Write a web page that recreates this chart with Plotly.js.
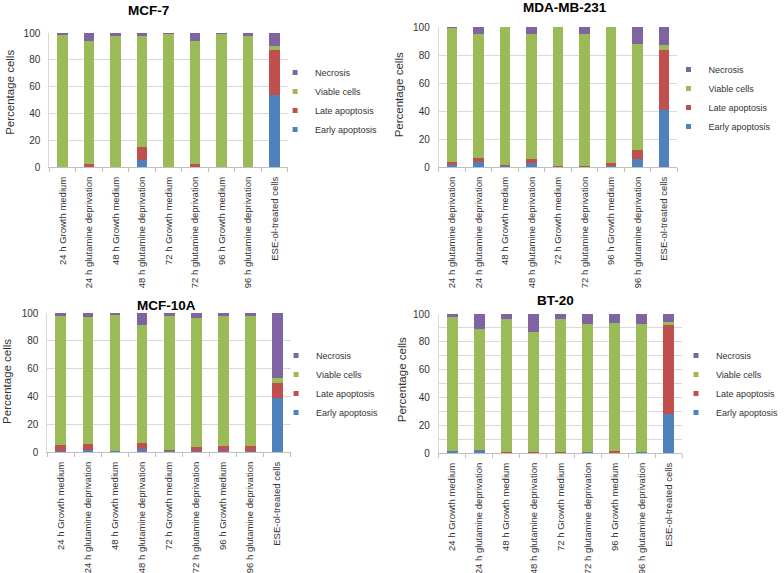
<!DOCTYPE html>
<html>
<head>
<meta charset="utf-8">
<script src="https://cdn.plot.ly/plotly-3.0.1.min.js"></script>
<style>html,body{margin:0;padding:0;background:#fff}#chart{width:784px;height:573px}</style>
</head>
<body>
<div id="chart"></div>
<script>
// ---- categories ----
const categoriesStd = ["24 h Growth medium","24 h glutamine deprivation","48 h Growth medium","48 h glutamine deprivation","72 h Growth medium","72 h glutamine deprivation","96 h Growth medium","96 h glutamine deprivation","ESE-ol-treated cells"];
const categoriesMDA = ["24 h glutamine deprivation","24 h glutamine deprivation","48 h Growth medium","48 h glutamine deprivation","72 h Growth medium","72 h glutamine deprivation","96 h Growth medium","96 h glutamine deprivation","ESE-ol-treated cells"];
const seriesNames = ["Early apoptosis","Late apoptosis","Viable cells","Necrosis"];
const yTicks = [0,20,40,60,80,100];

// ---- MCF-7 ----
const mcf7Early    = [0,   0,   0,  5,   0,   0,   0,   0,   54];
const mcf7Late     = [0,   2.5, 0,  10,  0,   2.5, 0,   0,   33];
const mcf7Viable   = [98.5,91.5,98, 83,  99,  91.5,99,  97.5,3];
const mcf7Necrosis = [1.5, 6,   2,  2,   1,   6,   1,   2.5, 10];

// ---- MDA-MB-231 ----
const mdaEarly    = [1.7, 3.6, 0.5, 2.9, 0,   0,   1,   5.5, 40.5];
const mdaLate     = [1.9, 3.1, 1.2, 2.6, 0.7, 0.7, 1.6, 6.4, 42.8];
const mdaViable   = [95.7,88.5,98.3,89.3,99.3,94.1,97.4,75.7,3.6];
const mdaNecrosis = [0.7, 4.8, 0,   5.2, 0,   5.2, 0,   12.4,13.1];

// ---- MCF-10A ----
const mcf10aEarly    = [1,   1.7, 0.5, 2.2, 0.5, 0.5, 1,   1,   38.8];
const mcf10aLate     = [3.8, 3.8, 0.5, 4.5, 1,   2.9, 3.3, 3.3, 11.1];
const mcf10aViable   = [92.8,91.4,97.3,84.9,96.6,93,  93.3,93.3,3.6];
const mcf10aNecrosis = [2.4, 3.1, 1.7, 8.4, 1.9, 3.6, 2.4, 2.4, 46.5];

// ---- BT-20 ----
const bt20Early    = [1.2, 1.9, 0,   0,  0,   1,   0,   1,   28];
const bt20Late     = [0,   0.4, 1,   1,  1,   0,   1.5, 0,   64.3];
const bt20Viable   = [96.6,87.1,95.4,86, 95.2,91.8,91.8,91.6,1.7];
const bt20Necrosis = [2.2, 10.6,3.6, 13, 3.8, 7.2, 6.7, 7.4, 6];

const colors = ["#4F81BD","#C0504D","#9BBB59","#8064A2"];
const FONT = "Liberation Sans, Arial, sans-serif";

const W = 784, H = 573;
const px = v => v / W;
const py = v => 1 - v / H;

const panels = [
  {title:"MCF-7", cats:categoriesStd, data:[mcf7Early,mcf7Late,mcf7Viable,mcf7Necrosis],
   x:[50,292], y:[33,167], legend:[279,58], titlePos:[151,10], ytitle:[10,92], minor:false},
  {title:"MDA-MB-231", cats:categoriesMDA, data:[mdaEarly,mdaLate,mdaViable,mdaNecrosis],
   x:[445,687], y:[27,167], legend:[678,55], titlePos:[573,8], ytitle:[405,95], minor:false},
  {title:"MCF-10A", cats:categoriesStd, data:[mcf10aEarly,mcf10aLate,mcf10aViable,mcf10aNecrosis],
   x:[48,295], y:[313,452], legend:[280,341], titlePos:[169,305], ytitle:[7,381], minor:false},
  {title:"BT-20", cats:categoriesStd, data:[bt20Early,bt20Late,bt20Viable,bt20Necrosis],
   x:[445,692], y:[314,453], legend:[686,341], titlePos:[563,300], ytitle:[408,380], minor:true}
];

const traces = [];
const layout = {
  width: W, height: H,
  margin: {l:0, r:0, t:0, b:0},
  paper_bgcolor: "#fff", plot_bgcolor: "#fff",
  barmode: "stack", bargap: 0.6,
  font: {family: FONT, color: "#333"},
  showlegend: true,
  annotations: []
};

panels.forEach((p, k) => {
  const n = k + 1;
  const xa = n === 1 ? "x" : "x" + n;
  const ya = n === 1 ? "y" : "y" + n;
  const lg = n === 1 ? "legend" : "legend" + n;
  const idx = p.cats.map((_, i) => i);
  p.data.forEach((vals, s) => {
    traces.push({
      type: "bar", x: idx, y: vals, name: seriesNames[s],
      xaxis: xa, yaxis: ya, showlegend: false,
      marker: {color: colors[s], line: {width: 0}},
      hoverinfo: "name+y"
    });
  });
  // legend-only entries (small square keys, no marks drawn)
  seriesNames.forEach((nm, s) => {
    traces.push({
      type: "scatter", mode: "markers", x: [null], y: [null], name: nm,
      xaxis: xa, yaxis: ya, legend: lg, showlegend: true,
      marker: {symbol: "square", size: 5, color: colors[s]},
      hoverinfo: "skip"
    });
  });
  const xKey = n === 1 ? "xaxis" : "xaxis" + n;
  const yKey = n === 1 ? "yaxis" : "yaxis" + n;
  layout[xKey] = {
    domain: [px(p.x[0]), px(p.x[1])],
    anchor: ya,
    range: [-0.5, p.cats.length - 0.5],
    tickmode: "array", tickvals: idx, ticktext: p.cats,
    tickangle: -90, ticks: "", ticklabelstandoff: 5,
    tickfont: {size: 9.5, color: "#333", family: FONT},
    showgrid: false, zeroline: false,
    showline: true, linecolor: "#BFBFBF", linewidth: 1,
    minor: {tickmode: "array", tickvals: idx.concat([p.cats.length]).map(i => i - 0.5),
            ticks: "outside", ticklen: 4, tickcolor: "#BFBFBF", showgrid: false},
    fixedrange: true
  };
  layout[yKey] = {
    domain: [py(p.y[1]), py(p.y[0])],
    anchor: xa,
    range: [0, 100],
    tickmode: "array", tickvals: yTicks,
    ticks: "", ticklabelstandoff: 6,
    tickfont: {size: 10, color: "#333", family: FONT},
    showgrid: true, gridcolor: "#D9D9D9", gridwidth: 1,
    zeroline: false,
    showline: true, linecolor: "#D9D9D9", linewidth: 1,
    fixedrange: true
  };
  if (p.minor) {
    layout[yKey].minor = {dtick: 10, showgrid: true, gridcolor: "#D9D9D9", gridwidth: 1, ticks: ""};
    layout[yKey].tickmode = "linear"; layout[yKey].tick0 = 0; layout[yKey].dtick = 20;
    delete layout[yKey].tickvals;
  }
  layout[lg] = {
    x: px(p.legend[0]), y: py(p.legend[1]), xanchor: "left", yanchor: "top",
    bgcolor: "rgba(0,0,0,0)", borderwidth: 0,
    traceorder: "reversed",
    font: {size: 9, color: "#333", family: FONT},
    tracegroupgap: 0, itemwidth: 30
  };
  layout.annotations.push({
    text: "<b>" + p.title + "</b>", xref: "paper", yref: "paper",
    x: px(p.titlePos[0]), y: py(p.titlePos[1]), xanchor: "center", yanchor: "middle",
    showarrow: false, font: {size: 13.5, color: "#000", family: FONT}
  });
  layout.annotations.push({
    text: "Percentage cells", xref: "paper", yref: "paper",
    x: px(p.ytitle[0]), y: py(p.ytitle[1]), xanchor: "center", yanchor: "middle",
    textangle: -90, showarrow: false, font: {size: 11.5, color: "#333", family: FONT}
  });
});

Plotly.newPlot("chart", traces, layout, {displayModeBar: false, staticPlot: true});
</script>
</body>
</html>
